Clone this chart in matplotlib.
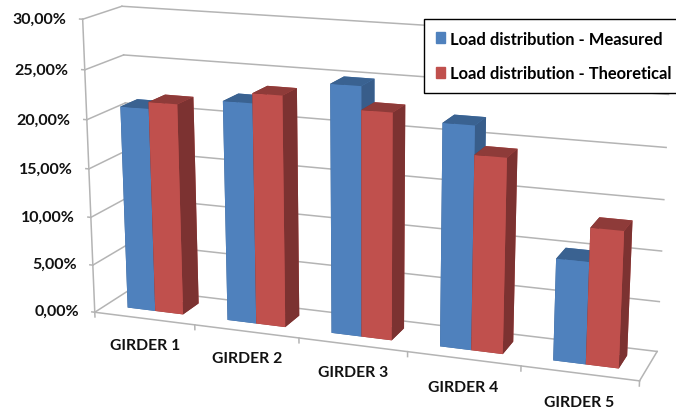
import numpy as np
from matplotlib import pyplot as plt
from matplotlib.patches import Patch
from mpl_toolkits.mplot3d import proj3d

plt.rcParams['font.family'] = ['Lato', 'DejaVu Sans']
plt.rcParams['font.weight'] = 'bold'

# valores em porcentagem
girders = ["GIRDER 1", "GIRDER 2", "GIRDER 3", "GIRDER 4", "GIRDER 5"]
measured = [21.0, 22.4, 24.9, 22.0, 10.0]
theoretical = [21.7, 23.4, 22.6, 19.2, 13.3]
yticks = [0, 5, 10, 15, 20, 25, 30]
ytick_labels = ["0,00%", "5,00%", "10,00%", "15,00%", "20,00%", "25,00%", "30,00%"]
series_names = ["Load distribution - Measured", "Load distribution - Theoretical"]

blue = ["#3F6797", "#3A6291", "#4F81BD", "#4F81BD", "#385D8A", "#385D8A"]
red = ["#8E3B39", "#8E3B39", "#C0504D", "#C0504D", "#7C3231", "#7C3231"]
grid_color = "#B4B4B4"

W, H = 676, 410
AX_SIZE = 645

fig = plt.figure(figsize=(W / 100, H / 100), dpi=100)
ax = fig.add_axes([36 / W, -106 / H, AX_SIZE / W, AX_SIZE / H], projection="3d")
ax.set_proj_type("persp", focal_length=0.517)
ax.view_init(elev=15, azim=-70)
ax.set_box_aspect((580, 85, 312))
ax.set_xlim(0, len(girders))
ax.set_ylim(0, 1)
ax.set_zlim(0, yticks[-1])
ax.set_axis_off()
ax.computed_zorder = False

n = len(girders)
ix = np.arange(n)

# parede do fundo, parede esquerda e eixo
for t in yticks:
    ax.plot([0, n], [1, 1], [t, t], color=grid_color, lw=1.1, zorder=1)
    ax.plot([0, 0], [0, 1], [t, t], color=grid_color, lw=1.1, zorder=1)
    ax.plot([-0.03, 0], [0, 0], [t, t], color=grid_color, lw=1.1, zorder=1)
ax.plot([0, 0], [0, 0], [0, yticks[-1]], color=grid_color, lw=1.1, zorder=1)
ax.plot([0, n], [0, 0], [0, 0], color=grid_color, lw=1.1, zorder=1)
ax.plot([n, n], [0, 1], [0, 0], color=grid_color, lw=1.1, zorder=1)
for i in range(n + 1):
    ax.plot([i, i], [0, 0], [0, -0.5], color=grid_color, lw=1.1, zorder=1)

# barras
bar_w = 0.28
ax.bar3d(ix + 0.22, np.full(n, 0.3), np.zeros(n), bar_w, 0.45, measured,
         color=blue * n, shade=False, zorder=2)
ax.bar3d(ix + 0.22 + bar_w, np.full(n, 0.3), np.zeros(n), bar_w, 0.45, theoretical,
         color=red * n, shade=False, zorder=3)


# texto 2D na posicao projetada do ponto 3D
def rotulo(x, y, z, texto, **kw):
    px, py, _ = proj3d.proj_transform(x, y, z, ax.get_proj())
    ax.text2D(px, py, texto, transform=ax.transData, color="#111111", **kw)


for t, lab in zip(yticks, ytick_labels):
    rotulo(-0.16, 0, t - 0.1, lab, ha="right", va="center", fontsize=11.5)
for i, g in enumerate(girders):
    rotulo(i + 0.5, 0, -2.8, g, ha="center", va="center", fontsize=11.3)

handles = [Patch(color=blue[2]), Patch(color=red[2])]
leg = fig.legend(handles, series_names, loc="upper left",
                 bbox_to_anchor=(424 / W, 1 - 20 / H), borderaxespad=0,
                 fontsize=11.9, frameon=True, fancybox=False, edgecolor="black",
                 framealpha=1, handlelength=0.6, handleheight=0.6,
                 handletextpad=0.25, labelspacing=1.12, borderpad=0.7)
leg.get_frame().set_linewidth(1.0)

fig.savefig("out.png", dpi=100)
